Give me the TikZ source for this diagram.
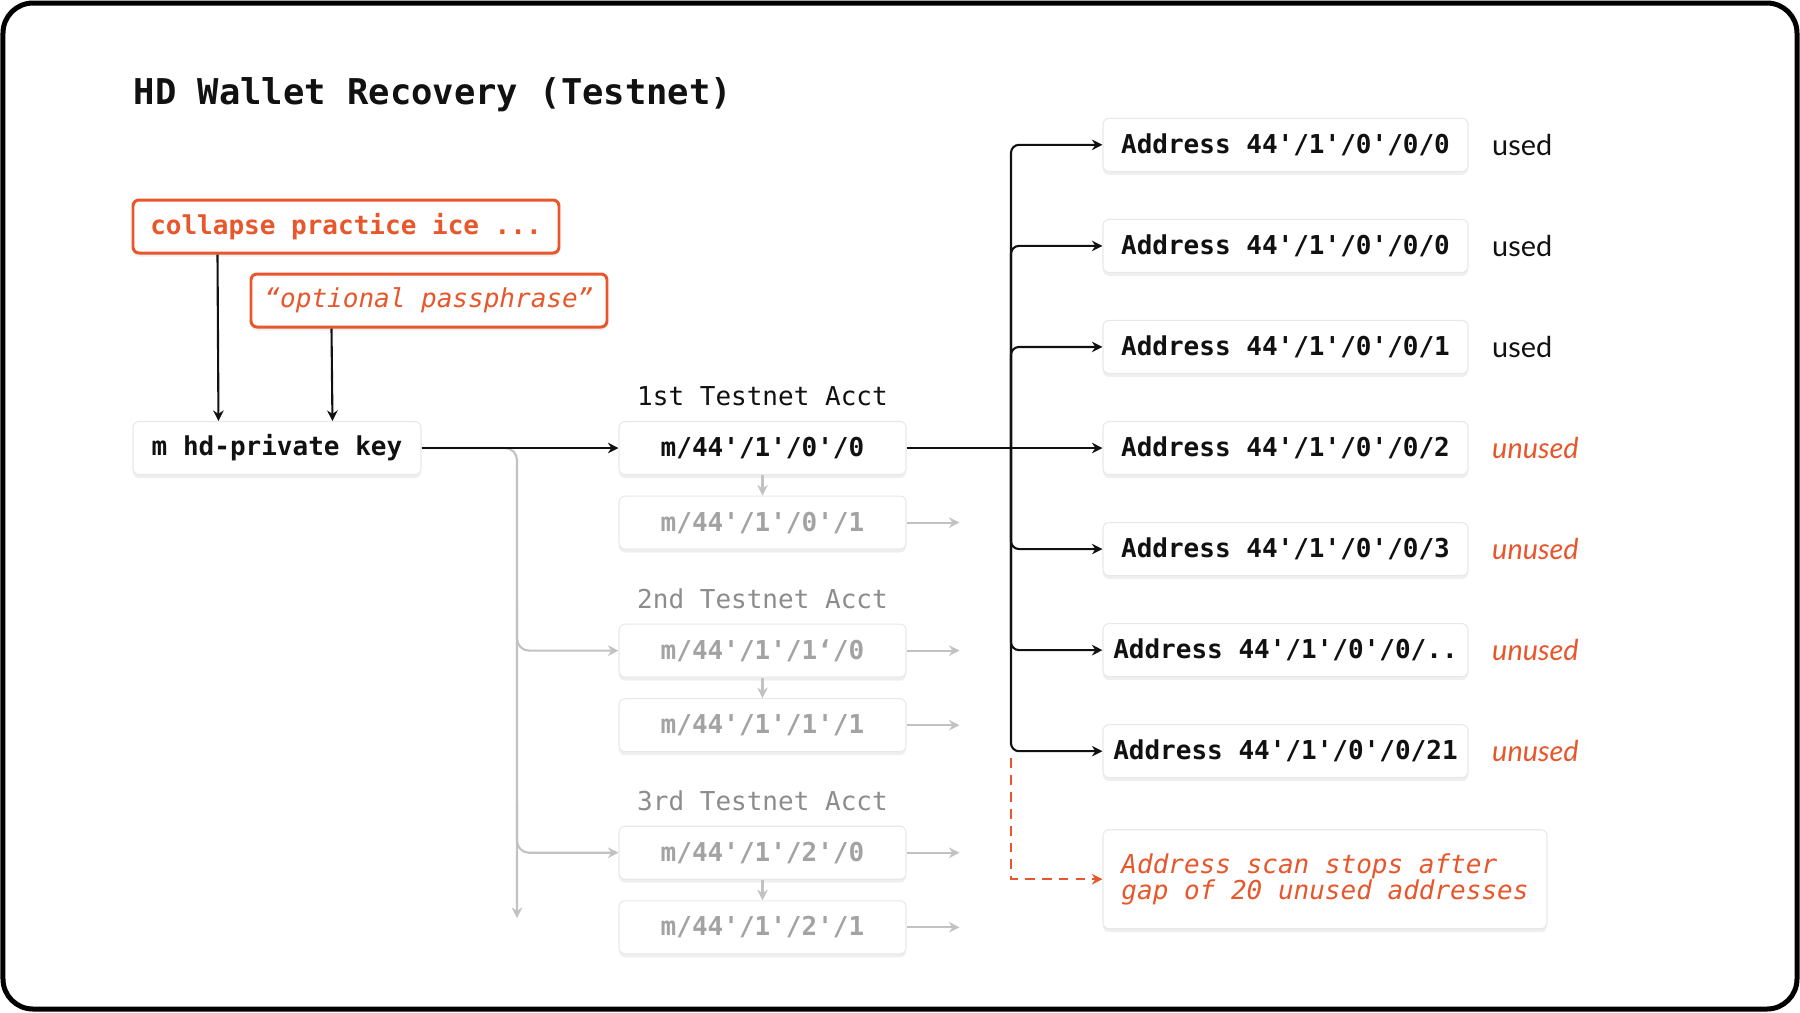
\documentclass[tikz,border=0pt]{standalone}
\usepackage{fontspec}
\setmonofont{DejaVu Sans Mono}
\setsansfont{Lato}
\usetikzlibrary{arrows.meta,positioning,shadows}
\definecolor{signal}{HTML}{E8562B}
\definecolor{inktext}{HTML}{111111}
\definecolor{fadetext}{HTML}{A3A3A3}
\definecolor{fadeline}{HTML}{C2C2C2}
\definecolor{fadelabel}{HTML}{8C8C8C}

\begin{document}
\begin{tikzpicture}[
  >={Stealth[length=3pt,width=3pt]},
  every node/.style={inner sep=0pt, font=\ttfamily\fontsize{7.4}{7.4}\selectfont},
  card/.style={rectangle, rounded corners=0.6mm, draw=black!9, fill=white, line width=0.3pt,
               drop shadow={shadow xshift=0mm, shadow yshift=-0.35mm, opacity=0.12},
               font=\ttfamily\bfseries\fontsize{7.4}{7.4}\selectfont, text=inktext,
               minimum height=0.53cm},
  acct/.style={card, minimum width=2.87cm},
  faded/.style={acct, text=fadetext},
  addr/.style={card, minimum width=3.65cm},
  input/.style={card, draw=signal, line width=0.85pt, text=signal},
  acctlabel/.style={text=fadelabel},
  usedtag/.style={font=\sffamily\fontsize{8.2}{8.2}\selectfont, text=inktext},
  unusedtag/.style={font=\sffamily\itshape\fontsize{8.2}{8.2}\selectfont, text=signal},
  link/.style={->, draw=inktext, line width=0.6pt},
  faint/.style={->, draw=fadeline, line width=0.6pt},
  scanlink/.style={->, draw=signal, line width=0.6pt, dash pattern=on 2.8pt off 2pt},
]
  \useasboundingbox (0,0) rectangle (18,-10.12);
  \fill[white] (0,0) rectangle (18,-10.12);
  \draw[line width=0.5mm, rounded corners=3mm] (0.03,-0.03) rectangle (17.97,-10.09);

  \node[anchor=west, font=\ttfamily\bfseries\fontsize{10.1}{10.1}\selectfont, text=inktext] (title) at (1.33,-0.95) {HD Wallet Recovery (Testnet)};

  % inputs and master key
  \node[input, minimum width=4.26cm] (seed) at (3.46,-2.265) {collapse practice ice ...};
  \node[input, minimum width=3.56cm, font=\ttfamily\itshape\fontsize{7.4}{7.4}\selectfont] (pass) at (4.29,-3.005) {“optional passphrase”};
  \node[card, minimum width=2.88cm] (hd) at (2.77,-4.48) {m hd-private key};

  % accounts
  \node[acct] (a00) at (7.625,-4.48) {m/44'/1'/0'/0};
  \node[faded, below=0.205cm of a00] (a01) {m/44'/1'/0'/1};
  \node[faded, below=0.74cm of a01] (a10) {m/44'/1'/1‘/0};
  \node[faded, below=0.205cm of a10] (a11) {m/44'/1'/1'/1};
  \node[faded, below=0.735cm of a11] (a20) {m/44'/1'/2'/0};
  \node[faded, below=0.205cm of a20] (a21) {m/44'/1'/2'/1};

  \node[acctlabel, text=inktext, above=0.14cm of a00] (lab1) {1st Testnet Acct};
  \node[acctlabel, above=0.14cm of a10] (lab2) {2nd Testnet Acct};
  \node[acctlabel, above=0.14cm of a20] (lab3) {3rd Testnet Acct};

  % addresses
  \node[addr] (ad3) at (12.855,-4.48) {Address 44'/1'/0'/0/2};
  \node[addr, above=0.47cm of ad3] (ad2) {Address 44'/1'/0'/0/1};
  \node[addr, above=0.47cm of ad2] (ad1) {Address 44'/1'/0'/0/0};
  \node[addr, above=0.47cm of ad1] (ad0) {Address 44'/1'/0'/0/0};
  \node[addr, below=0.47cm of ad3] (ad4) {Address 44'/1'/0'/0/3};
  \node[addr, below=0.47cm of ad4] (ad5) {Address 44'/1'/0'/0/..};
  \node[addr, below=0.47cm of ad5] (ad6) {Address 44'/1'/0'/0/21};

  \node[usedtag, right=0.23cm of ad0] (st0) {used};
  \node[usedtag, right=0.23cm of ad1] (st1) {used};
  \node[usedtag, right=0.23cm of ad2] (st2) {used};
  \node[unusedtag, right=0.23cm of ad3] (st3) {unused};
  \node[unusedtag, right=0.23cm of ad4] (st4) {unused};
  \node[unusedtag, right=0.23cm of ad5] (st5) {unused};
  \node[unusedtag, right=0.23cm of ad6] (st6) {unused};

  \node[card, below=0.51cm of ad6.south west, anchor=north west, minimum width=4.44cm, minimum height=0.99cm,
        align=left, font=\ttfamily\itshape\fontsize{7.4}{7.4}\selectfont, text=signal] (scan)
       {Address scan stops after\\gap of 20 unused addresses};

  % connectors
  \draw[link] ([xshift=0.86cm]seed.south west) -- ([xshift=0.86cm]hd.north west);
  \draw[link] ([xshift=0.82cm]pass.south west) -- ([xshift=2.00cm]hd.north west);

  \coordinate (fork) at (5.17,-4.48);
  \draw[faint, rounded corners=1.2mm] (hd.east) -| ([yshift=-4.70cm]fork);
  \draw[faint, <-, rounded corners=1.2mm] (a10.west) -| ([yshift=0.5cm]fork |- a10.west);
  \draw[faint, <-, rounded corners=1.2mm] (a20.west) -| ([yshift=0.5cm]fork |- a20.west);
  \draw[link] (hd.east) -- (a00.west);

  \draw[faint] (a00.south) -- (a01.north);
  \draw[faint] (a10.south) -- (a11.north);
  \draw[faint] (a20.south) -- (a21.north);
  \draw[faint] (a01.east) -- ++(0.53,0);
  \draw[faint] (a10.east) -- ++(0.53,0);
  \draw[faint] (a11.east) -- ++(0.53,0);
  \draw[faint] (a20.east) -- ++(0.53,0);
  \draw[faint] (a21.east) -- ++(0.53,0);

  \coordinate (bus) at (10.11,-4.48);
  \draw[link] (a00.east) -- (ad3.west);
  \draw[link, rounded corners=0.8mm] (bus) |- (ad0.west);
  \draw[link, rounded corners=0.8mm] (bus) |- (ad1.west);
  \draw[link, rounded corners=0.8mm] (bus) |- (ad2.west);
  \draw[link, rounded corners=0.8mm] (bus) |- (ad4.west);
  \draw[link, rounded corners=0.8mm] (bus) |- (ad5.west);
  \draw[link, rounded corners=0.8mm] (bus) |- (ad6.west);
  \draw[scanlink] ([yshift=-0.07cm]bus |- ad6.west) |- (scan.west);
\end{tikzpicture}
\end{document}
